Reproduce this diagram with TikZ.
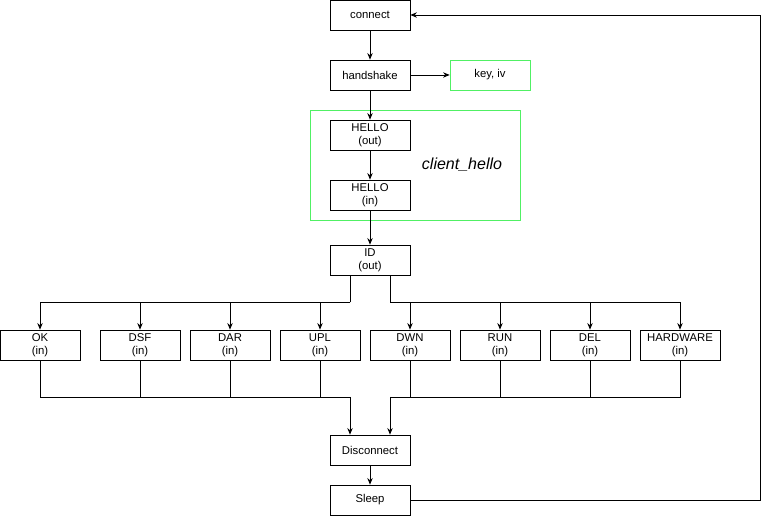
\documentclass[tikz,border=0pt]{standalone}
\usepackage{fontspec}
\setmainfont{Liberation Sans}
\usetikzlibrary{arrows.meta}
\begin{document}
\begin{tikzpicture}[x=0.75pt,y=-0.75pt,
  box/.style={draw,fill=white,minimum width=60pt,minimum height=22.5pt,inner sep=0pt,align=center,font=\fontsize{8.5}{9.5}\selectfont},
  gbox/.style={box,draw={rgb,255:red,80;green,240;blue,100}},
  arr/.style={-{Stealth[length=5pt,width=4pt]},line width=0.6pt},
  ln/.style={line width=0.6pt}]
\useasboundingbox (0,0) rectangle (769,516);
\draw[draw={rgb,255:red,80;green,240;blue,100}] (310,110) rectangle (520,220);
\node[box] (connect) at (370,15) {connect};
\node[box] (hs) at (370,75) {handshake};
\node[gbox] (key) at (490,75) {key, iv};
\node[box] (ho) at (370,135) {HELLO\\(out)};
\node[box] (hi) at (370,195) {HELLO\\(in)};
\node[font=\fontsize{12}{14}\selectfont\itshape] (ch) at (462,165) {client\_hello};
\node[box] (id) at (370,260) {ID\\(out)};
\foreach \n/\x/\t in {ok/40/OK,dsf/140/DSF,dar/230/DAR,upl/320/UPL,dwn/410/DWN,run/500/RUN,del/590/DEL,hw/680/HARDWARE}
  \node[box] (\n) at (\x,345) {\t\\(in)};
\node[box] (dis) at (370,450) {Disconnect};
\node[box] (sl) at (370,500) {Sleep};
\draw[arr] (connect) -- (hs);
\draw[arr] (hs) -- (key);
\draw[arr] (hs) -- (ho);
\draw[arr] (ho) -- (hi);
\draw[arr] (hi) -- (id);
\coordinate (l) at (350,302);
\coordinate (r) at (390,302);
\draw[ln] (id.south -| l) -- (l);
\draw[ln] (id.south -| r) -- (r);
\foreach \n in {ok,dsf,dar,upl} \draw[arr] (l) -| (\n.north);
\foreach \n in {dwn,run,del,hw} \draw[arr] (r) -| (\n.north);
\coordinate (bl) at (350,397);
\coordinate (br) at (390,397);
\foreach \n in {ok,dsf,dar,upl} \draw[ln] (\n.south) |- (bl);
\foreach \n in {dwn,run,del,hw} \draw[ln] (\n.south) |- (br);
\draw[arr] (bl) -- (dis.north -| bl);
\draw[arr] (br) -- (dis.north -| br);
\draw[arr] (dis) -- (sl);
\coordinate (c) at (760,15);
\draw[arr] (sl.east) -| (c) -- (connect.east);
\end{tikzpicture}
\end{document}
